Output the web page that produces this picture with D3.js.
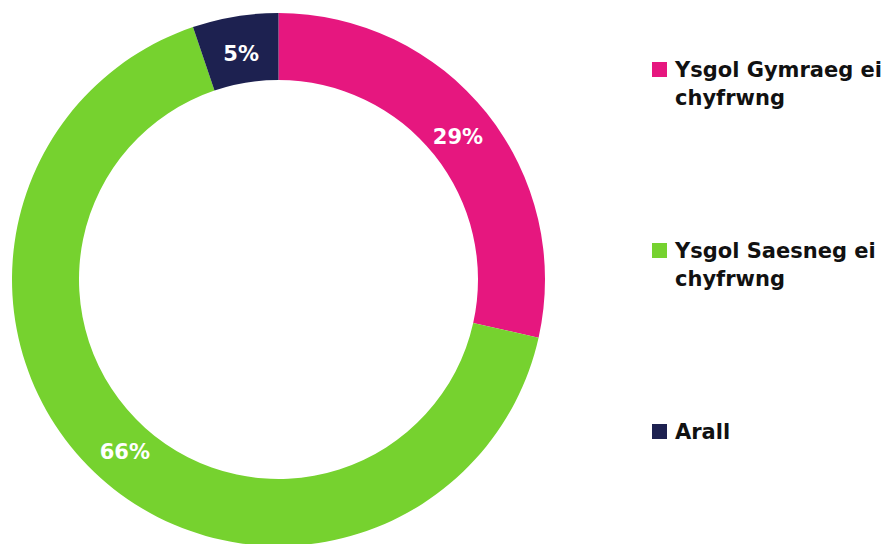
<!DOCTYPE html>
<html>
<head>
<meta charset="utf-8">
<style>
  body { margin: 0; background: white; }
  svg { display: block; font-family: "DejaVu Sans", sans-serif; }
  .lbl { fill: white; font-weight: 700; font-size: 21px; }
  .leg { fill: #111; font-weight: 700; font-size: 21px; }
</style>
</head>
<body>
<script src="https://cdn.jsdelivr.net/npm/d3@7"></script>
<script>
  // chart data
  const categories = ["Ysgol Gymraeg ei chyfrwng", "Ysgol Saesneg ei chyfrwng", "Arall"];
  const values = [28.5, 66.3, 5.2];
  const labels = ["29%", "66%", "5%"];
  const colors = ["#e6177f", "#76d22f", "#1d2150"];
  // legend text broken over lines as in the original
  const legendLines = [["Ysgol Gymraeg ei", "chyfrwng"], ["Ysgol Saesneg ei", "chyfrwng"], ["Arall"]];

  const w = 891, h = 544;
  const cx = 278.5, cy = 279.5, rOut = 266.5, rIn = 199.5;

  const svg = d3.select("body").append("svg").attr("width", w).attr("height", h);

  const pie = d3.pie().sort(null).value(d => d);
  const arc = d3.arc().innerRadius(rIn).outerRadius(rOut);
  const labelArc = d3.arc().innerRadius(226).outerRadius(234);
  const arcs = pie(values);

  const g = svg.append("g").attr("transform", `translate(${cx},${cy})`);
  g.selectAll("path")
    .data(arcs)
    .enter()
    .append("path")
    .attr("d", arc)
    .attr("fill", (d, i) => colors[i]);

  g.selectAll("text")
    .data(arcs)
    .enter()
    .append("text")
    .attr("class", "lbl")
    .attr("transform", d => `translate(${labelArc.centroid(d)})`)
    .attr("text-anchor", "middle")
    .attr("dy", "0.38em")
    .text((d, i) => labels[i]);

  // legend
  const ly = d3.scalePoint().domain(categories).range([70, 432]);
  const leg = svg.append("g").selectAll("g")
    .data(categories)
    .enter()
    .append("g")
    .attr("transform", d => `translate(652,${ly(d)})`);

  leg.append("rect")
    .attr("x", 0).attr("y", -8)
    .attr("width", 15).attr("height", 15)
    .attr("fill", (d, i) => colors[i]);

  leg.append("text")
    .attr("class", "leg")
    .attr("x", 23)
    .selectAll("tspan")
    .data((d, i) => legendLines[i])
    .enter()
    .append("tspan")
    .attr("x", 23)
    .attr("y", (d, j) => 7 + j * 28)
    .text(d => d);
</script>
</body>
</html>
